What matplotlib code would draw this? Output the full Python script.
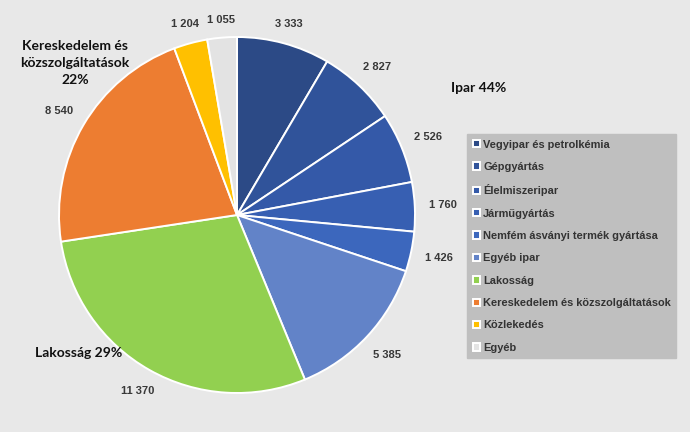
import numpy as np
import matplotlib
matplotlib.use("Agg")
import matplotlib.pyplot as plt

categories = ["Vegyipar és petrolkémia", "Gépgyártás", "Élelmiszeripar", "Járműgyártás",
              "Nemfém ásványi termék gyártása", "Egyéb ipar", "Lakosság",
              "Kereskedelem és közszolgáltatások", "Közlekedés", "Egyéb"]
values = [3333, 2827, 2526, 1760, 1426, 5385, 11370, 8540, 1204, 1055]
value_labels = ["3 333", "2 827", "2 526", "1 760", "1 426", "5 385", "11 370", "8 540", "1 204", "1 055"]
colors = ["#2c4a86", "#30539a", "#3459a8", "#375fb2", "#3c67bd", "#6283c8",
          "#92d050", "#ed7d31", "#ffc000", "#e3e3e3"]
group_labels = ["Ipar 44%", "Kereskedelem és\nközszolgáltatások\n22%", "Lakosság 29%"]

BG = "#e8e8e8"
fig = plt.figure(figsize=(6.9, 4.32), dpi=100, facecolor=BG)
ax = fig.add_axes([59 / 690, (432 - 215 - 178) / 432, 356 / 690, 356 / 432])
ax.set_facecolor(BG)
wedges, _ = ax.pie(values, colors=colors, startangle=90, counterclock=False,
                   radius=1.0, wedgeprops=dict(edgecolor="white", linewidth=1.4))
ax.set_xlim(-1, 1)
ax.set_ylim(-1, 1)
ax.set_aspect("equal")
ax.axis("off")

total = float(sum(values))
cum = 0.0
for v, lab in zip(values, value_labels):
    mid = 90 - (cum + v / 2) / total * 360
    cum += v
    a = np.deg2rad(mid)
    r = 1.06 + 0.095 * abs(np.cos(a)) + 0.03 * abs(np.sin(a))
    ax.text(r * np.cos(a), r * np.sin(a), lab, ha="center", va="center",
            fontsize=8, fontweight="bold", color="#383838", family="Liberation Sans",
            clip_on=False)

fig.text(479 / 690, 1 - 88 / 432, group_labels[0], ha="center", va="center",
         fontsize=10, fontweight="bold", color="#111111", family="Lato")
fig.text(75 / 690, 1 - 63 / 432, group_labels[1], ha="center", va="center",
         fontsize=10, fontweight="bold", color="#111111", family="Lato", linespacing=1.45)
fig.text(79 / 690, 1 - 353 / 432, group_labels[2], ha="center", va="center",
         fontsize=10, fontweight="bold", color="#111111", family="Lato")

leg = fig.legend(wedges, categories, loc="upper left",
                 bbox_to_anchor=(467 / 690, 1 - 134 / 432), frameon=True,
                 fancybox=False, facecolor="#bfbfbf", edgecolor="#bfbfbf",
                 framealpha=1, handlelength=0.65, handleheight=0.65, handletextpad=0.3,
                 labelspacing=1.12, borderpad=0.5, borderaxespad=0,
                 prop=dict(family="Liberation Sans", weight="bold", size=7.95))
for t in leg.get_texts():
    t.set_color("#333333")

fig.savefig("out.png", dpi=100, facecolor=BG)
